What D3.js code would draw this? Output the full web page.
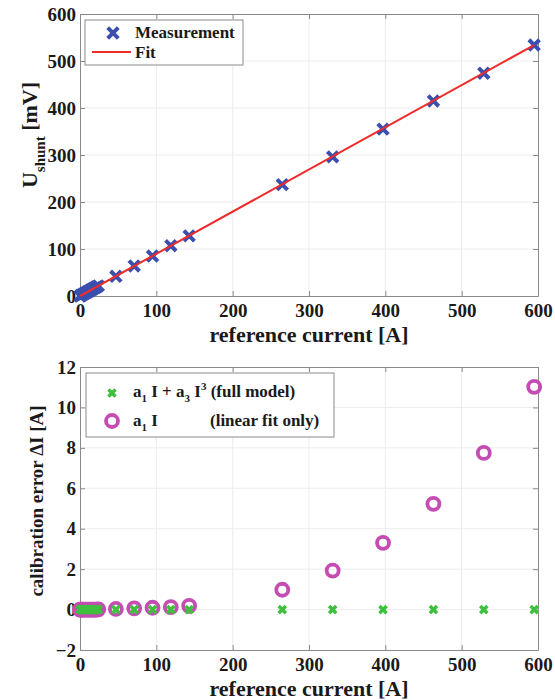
<!DOCTYPE html>
<html lang="en">
<head>
  <meta charset="UTF-8">
  <title>Shunt calibration</title>
  <style>
    body { margin: 0; background: #fff; }
    svg text { font-family: "Liberation Serif", "Times New Roman", serif; font-weight: bold; fill: #1a1a1a; }
    .grid line { stroke: #ececec; }
  </style>
</head>
<body>
  <svg id="chart" width="555" height="700"></svg>
  <script src="https://cdn.jsdelivr.net/npm/d3@7"></script>
  <script>
    // measured currents [A]
    var current = [0, 1, 2, 4, 6, 8, 10, 12, 14, 16, 18, 20, 22, 24, 47, 71, 95, 119, 143, 265, 331, 397, 463, 529, 595];
    // shunt voltage [mV]
    var uShunt = [0, 0.9, 1.8, 3.6, 5.4, 7.2, 9, 10.8, 12.6, 14.4, 16.2, 18, 19.8, 21.6, 42, 64, 85, 107, 128, 237, 296, 355, 415, 474, 534];
    // calibration error, full model and linear only [A]
    var errFull = [0, 0, 0, 0, 0, 0, 0, 0, 0, 0, 0, 0, 0, 0, 0, 0, 0, 0, 0, 0, 0, 0, 0, 0, 0];
    var errLinear = [0, 0, 0, 0, 0, 0, 0, 0, 0, 0, 0, 0, 0, 0.01, 0.03, 0.06, 0.09, 0.12, 0.18, 0.98, 1.93, 3.3, 5.23, 7.75, 11.02];
    var fitX = [0, 595];
    var fitY = [0, 534];

    var xTicks = [0, 100, 200, 300, 400, 500, 600];
    var yTicksTop = [0, 100, 200, 300, 400, 500, 600];
    var yTicksBottom = [-2, 0, 2, 4, 6, 8, 10, 12];

    var svg = d3.select('#chart');
    var left = 80, right = 538;

    function frame(top, bottom, yDomain, yTicks) {
      var x = d3.scaleLinear().domain([0, 600]).range([left, right]);
      var y = d3.scaleLinear().domain(yDomain).range([bottom, top]);
      var g = svg.append('g');

      // grid
      g.append('g').attr('class', 'grid')
        .selectAll('line.v').data(xTicks.slice(1, -1)).enter().append('line')
        .attr('x1', d => x(d)).attr('x2', d => x(d)).attr('y1', top).attr('y2', bottom);
      g.append('g').attr('class', 'grid')
        .selectAll('line.h').data(yTicks.slice(1, -1)).enter().append('line')
        .attr('x1', left).attr('x2', right).attr('y1', d => y(d)).attr('y2', d => y(d));

      g.append('g').attr('transform', `translate(0, ${bottom})`)
        .call(d3.axisBottom(x).tickValues(xTicks).tickSizeInner(-5).tickSizeOuter(0).tickPadding(8));
      g.append('g').attr('transform', `translate(0, ${top})`)
        .call(d3.axisTop(x).tickValues(xTicks).tickSizeInner(-5).tickSizeOuter(0).tickFormat(''));
      g.append('g').attr('transform', `translate(${left}, 0)`)
        .call(d3.axisLeft(y).tickValues(yTicks).tickSizeInner(-5).tickSizeOuter(0).tickPadding(4));
      g.append('g').attr('transform', `translate(${right}, 0)`)
        .call(d3.axisRight(y).tickValues(yTicks).tickSizeInner(-5).tickSizeOuter(0).tickFormat(''));
      g.selectAll('.domain').attr('stroke', '#8a8a8a');
      g.selectAll('.tick line').attr('stroke', '#8a8a8a');
      g.selectAll('.tick text').attr('font-size', 19).attr('fill', '#1a1a1a')
        .style('font-family', '"Liberation Serif", serif').style('font-weight', 'bold');
      return { x: x, y: y, g: g };
    }

    // ---- top plot
    var p1 = frame(14, 296, [0, 600], yTicksTop);
    var line = d3.line().x(d => p1.x(d[0])).y(d => p1.y(d[1]));
    var xSym = d3.symbol().type(d3.symbolX).size(75);

    p1.g.append('g').selectAll('path').data(current).enter().append('path')
      .attr('d', xSym)
      .attr('transform', (d, i) => `translate(${p1.x(d)}, ${p1.y(uShunt[i])})`)
      .attr('fill', 'none').attr('stroke', '#3a4fae').attr('stroke-width', 4);

    p1.g.append('path').datum(d3.zip(fitX, fitY))
      .attr('d', line).attr('fill', 'none').attr('stroke', '#f02b2b').attr('stroke-width', 2);

    var lg1 = svg.append('g');
    lg1.append('rect').attr('x', 85).attr('y', 20).attr('width', 158).attr('height', 45)
      .attr('fill', '#fff').attr('stroke', '#8a8a8a');
    lg1.append('path').attr('d', xSym).attr('transform', 'translate(113, 33)')
      .attr('fill', 'none').attr('stroke', '#3a4fae').attr('stroke-width', 4);
    lg1.append('text').attr('x', 135).attr('y', 38).attr('font-size', 17).text('Measurement');
    lg1.append('line').attr('x1', 92).attr('x2', 131).attr('y1', 52).attr('y2', 52)
      .attr('stroke', '#f02b2b').attr('stroke-width', 2);
    lg1.append('text').attr('x', 135).attr('y', 58).attr('font-size', 17).text('Fit');

    svg.append('text').attr('x', 309).attr('y', 342).attr('text-anchor', 'middle')
      .attr('font-size', 22).text('reference current [A]');
    var yl1 = svg.append('text').attr('transform', 'translate(37, 135) rotate(-90)')
      .attr('text-anchor', 'middle').attr('font-size', 22);
    yl1.append('tspan').text('U');
    yl1.append('tspan').attr('font-size', 15).attr('dy', 8).text('shunt');
    yl1.append('tspan').attr('dy', -8).text(' [mV]');

    // ---- bottom plot
    var p2 = frame(367, 650, [-2, 12], yTicksBottom);

    p2.g.append('g').selectAll('circle').data(current).enter().append('circle')
      .attr('cx', d => p2.x(d)).attr('cy', (d, i) => p2.y(errLinear[i]))
      .attr('r', 6).attr('fill', 'none').attr('stroke', '#c44cb3').attr('stroke-width', 3.8);

    var gSym = d3.symbol().type(d3.symbolX).size(35);
    p2.g.append('g').selectAll('path').data(current).enter().append('path')
      .attr('d', gSym)
      .attr('transform', (d, i) => `translate(${p2.x(d)}, ${p2.y(errFull[i])})`)
      .attr('fill', 'none').attr('stroke', '#3ec03e').attr('stroke-width', 3.5);

    var lg2 = svg.append('g');
    lg2.append('rect').attr('x', 86).attr('y', 373).attr('width', 248).attr('height', 64)
      .attr('fill', '#fff').attr('stroke', '#8a8a8a');
    lg2.append('path').attr('d', gSym).attr('transform', 'translate(112, 393)')
      .attr('fill', 'none').attr('stroke', '#3ec03e').attr('stroke-width', 3.5);
    lg2.append('circle').attr('cx', 112).attr('cy', 421).attr('r', 6)
      .attr('fill', 'none').attr('stroke', '#c44cb3').attr('stroke-width', 3.8);

    var t1 = lg2.append('text').attr('x', 133).attr('y', 397).attr('font-size', 17);
    t1.append('tspan').text('a');
    t1.append('tspan').attr('font-size', 11).attr('dy', 5).text('1');
    t1.append('tspan').attr('dy', -5).text(' I + a');
    t1.append('tspan').attr('font-size', 11).attr('dy', 5).text('3');
    t1.append('tspan').attr('dy', -5).text(' I');
    t1.append('tspan').attr('font-size', 11).attr('dy', -7).text('3');
    t1.append('tspan').attr('dy', 7).text(' (full model)');

    var t2 = lg2.append('text').attr('x', 133).attr('y', 426).attr('font-size', 17);
    t2.append('tspan').text('a');
    t2.append('tspan').attr('font-size', 11).attr('dy', 5).text('1');
    t2.append('tspan').attr('dy', -5).text(' I');
    lg2.append('text').attr('x', 210).attr('y', 426).attr('font-size', 17).text('(linear fit only)');

    svg.append('text').attr('x', 309).attr('y', 696).attr('text-anchor', 'middle')
      .attr('font-size', 22).text('reference current [A]');
    svg.append('text').attr('transform', 'translate(43, 501) rotate(-90)')
      .attr('text-anchor', 'middle').attr('font-size', 19).text('calibration error \u0394I [A]');
  </script>
</body>
</html>
